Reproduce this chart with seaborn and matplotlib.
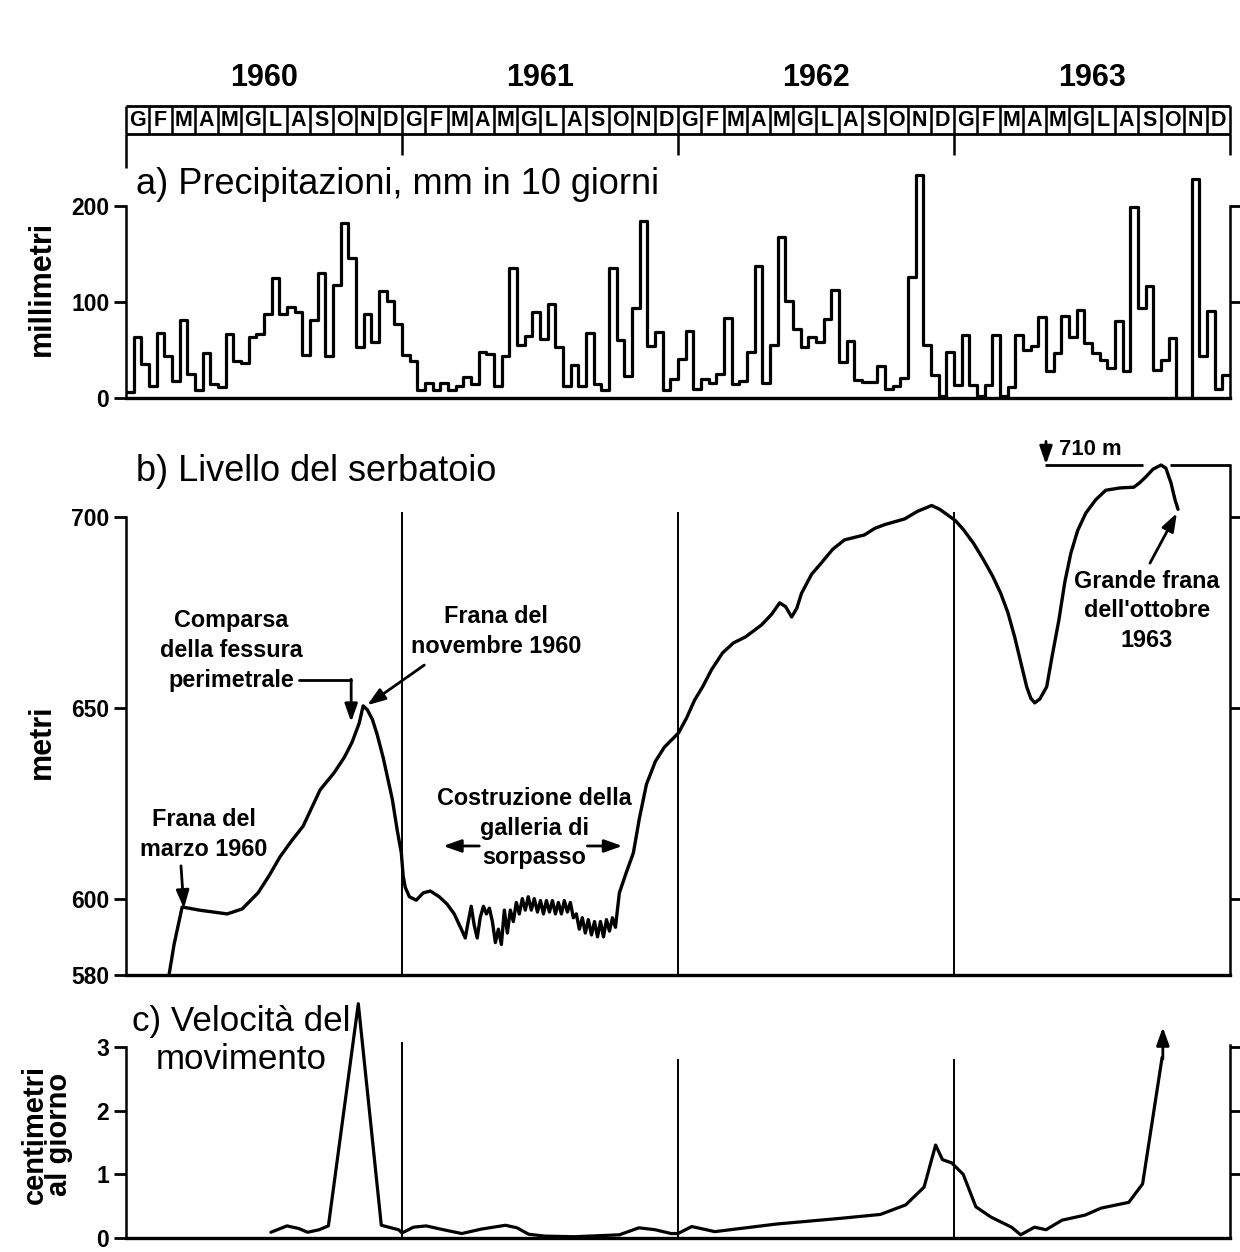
import numpy as np
import pandas as pd
import seaborn as sns
import matplotlib
matplotlib.use("Agg")
import matplotlib.pyplot as plt
from matplotlib import font_manager as fm

# ---------------- DATA ----------------
ANNI = [1960, 1961, 1962, 1963]
MESI = ["G", "F", "M", "A", "M", "G", "L", "A", "S", "O", "N", "D"]

# a) precipitazioni, mm per decade (36 decadi per anno)
PIOGGIA_1960 = [6, 64, 35, 13, 68, 44, 18, 81, 25, 8, 47, 15, 11, 67, 39, 36, 64, 67,
                87, 125, 88, 95, 90, 45, 81, 130, 44, 118, 182, 146, 53, 88, 58, 111, 101, 77]
PIOGGIA_1961 = [45, 39, 8, 16, 8, 16, 8, 12, 22, 15, 48, 46, 13, 44, 135, 55, 65, 90,
                61, 98, 53, 13, 34, 13, 68, 15, 8, 135, 60, 23, 94, 184, 54, 69, 8, 20]
PIOGGIA_1962 = [41, 70, 9, 20, 16, 25, 83, 15, 18, 48, 138, 16, 55, 168, 101, 72, 53, 64,
                58, 82, 113, 38, 59, 19, 17, 17, 33, 9, 13, 21, 126, 232, 55, 24, 2, 48]
PIOGGIA_1963 = [14, 66, 14, 2, 14, 66, 2, 11, 66, 50, 54, 84, 28, 47, 85, 64, 92, 57,
                47, 40, 31, 80, 28, 199, 94, 117, 29, 40, 62, 0, 0, 228, 44, 91, 9, 24]

# b) livello del serbatoio: tempo in mesi da gennaio 1960, quota in metri
LIVELLO_MESI = [1.87, 2.09, 2.44, 2.74, 3.18, 3.79, 4.40, 5.05, 5.74, 6.22, 6.70, 7.18, 7.70,
                8.09, 8.44, 9.05, 9.49, 9.83, 10.14, 10.31, 10.49, 10.71, 10.92, 11.18, 11.36,
                11.58, 11.79, 11.97, 12.05, 12.14, 12.32, 12.62, 12.92, 13.23, 13.62, 13.97,
                14.27, 14.58, 14.75, 14.88, 15.01, 15.14, 15.27, 15.40, 15.54, 15.67, 15.80,
                15.93, 16.06, 16.19, 16.32, 16.45, 16.58, 16.71, 16.84, 16.97, 17.10, 17.23,
                17.36, 17.49, 17.62, 17.75, 17.89, 18.02, 18.15, 18.28, 18.41, 18.54, 18.67,
                18.80, 18.93, 19.06, 19.19, 19.32, 19.45, 19.58, 19.71, 19.84, 19.97, 20.10,
                20.24, 20.37, 20.50, 20.63, 20.76, 20.89, 21.02, 21.15, 21.28, 21.45, 21.76,
                22.06, 22.32, 22.63, 23.02, 23.41, 24.02, 24.37, 24.72, 25.07, 25.46, 25.94,
                26.41, 26.94, 27.63, 28.07, 28.42, 28.68, 28.94, 29.16, 29.37, 29.81, 30.24,
                30.72, 31.24, 32.11, 32.55, 32.99, 33.86, 34.42, 35.03, 35.38, 35.73, 36.07,
                36.42, 36.86, 37.29, 37.68, 38.03, 38.34, 38.64, 38.90, 39.16, 39.34, 39.51,
                39.73, 40.03, 40.25, 40.56, 40.82, 41.08, 41.38, 41.73, 42.16, 42.60, 43.21,
                43.82, 44.08, 44.34, 44.65, 45.00, 45.21, 45.43, 45.61, 45.74]
LIVELLO_METRI = [580, 588, 597.8, 597.5, 597, 596.5, 596, 597.3, 601.5, 606, 611, 615, 619,
                 624, 628.5, 633, 637, 641, 646, 650.5, 649.5, 647, 643, 637, 632,
                 626, 618, 612, 606, 603, 600.5, 599.6, 601.5, 602, 600.5, 598.5,
                 596, 592, 589.7, 594, 598, 593, 589.7, 595, 598, 596, 597.5,
                 594, 588.5, 592, 588, 597, 591, 597, 594, 599, 596, 600,
                 597, 600.5, 597, 600, 596.5, 599.5, 596, 599.5, 596.5, 599.5, 596,
                 599, 596, 599.5, 596.5, 599, 595, 596, 592, 595, 591, 594.5,
                 590.5, 594, 590, 594, 590, 594.5, 591.5, 595, 592.5, 601.5, 607,
                 612, 621, 630, 636, 639.7, 643.4, 647.3, 652, 655.5, 660, 664.4,
                 667, 668.6, 671.7, 674.5, 677.5, 676.5, 673.8, 676, 680, 685, 688,
                 691.5, 694, 695.3, 697, 698, 699.5, 701.5, 703, 702, 700.5, 699,
                 696.6, 693, 688.7, 684.5, 680, 675, 668.5, 662, 655.5, 652.5, 651.3,
                 652.3, 655.5, 663, 673, 683, 690.5, 696.5, 701, 704.5, 707, 707.6,
                 707.8, 709, 710.5, 712.5, 713.6, 712.8, 709, 704.5, 702]
QUOTA_MAX = 713.6

# c) velocita del movimento, cm al giorno
VEL_MESI = [6.3, 7.0, 7.5, 7.9, 8.4, 8.8, 10.1, 11.1, 11.85, 12.0, 12.5, 13.05, 13.8, 14.6,
            15.45, 16.5, 17.0, 17.5, 18.2, 19.5, 21.45, 22.3, 23.0, 23.7, 24.0, 24.6, 25.6,
            28.3, 31.1, 32.8, 33.9, 34.7, 35.2, 35.5, 35.9, 36.4, 36.95, 37.6, 38.5, 38.9,
            39.5, 40.0, 40.7, 41.7, 42.4, 43.6, 44.2, 45.05]
VEL_CM = [0.09, 0.19, 0.15, 0.09, 0.13, 0.19, 3.68, 0.20, 0.13, 0.08, 0.17, 0.19, 0.13, 0.07,
          0.14, 0.20, 0.16, 0.06, 0.03, 0.02, 0.05, 0.16, 0.13, 0.07, 0.07, 0.18, 0.10,
          0.22, 0.31, 0.37, 0.52, 0.80, 1.46, 1.23, 1.18, 1.00, 0.49, 0.33, 0.17, 0.05,
          0.17, 0.13, 0.28, 0.36, 0.47, 0.56, 0.85, 2.84]

# ---------------- STYLE ----------------
sns.set_theme(style="ticks")
plt.rcParams["font.family"] = ["Liberation Sans", "DejaVu Sans"]
plt.rcParams["axes.linewidth"] = 1.8
for key in ["text.color", "axes.labelcolor", "xtick.color", "ytick.color", "axes.edgecolor"]:
    plt.rcParams[key] = "black"

names = {f.name for f in fm.fontManager.ttflist}
HAS_NARROW = "Liberation Sans Narrow" in names


def nfont(size, weight="normal"):
    if HAS_NARROW:
        return dict(family=["Liberation Sans Narrow", "Liberation Sans", "DejaVu Sans"],
                    size=size, weight=weight, color="black")
    return dict(family=["Liberation Sans", "DejaVu Sans"], size=size * 0.84, weight=weight,
                color="black")


W, H = 1240, 1252
fig = plt.figure(figsize=(W / 100, H / 100), dpi=100)
fig.patch.set_facecolor("white")

X0, X1 = 126, 1230


def px_axes(y0, y1, x0=X0, x1=X1):
    return fig.add_axes([x0 / W, 1 - y1 / H, (x1 - x0) / W, (y1 - y0) / H])


ARROW = dict(arrowstyle="-|>,head_length=0.9,head_width=0.32", color="black", lw=2,
             shrinkA=0, shrinkB=0)
NOTE_LS = 1.38


def style_axes(ax, ylim, yticks, lbounds, rticks, rbounds):
    ax.set_xlim(0, 48)
    ax.set_ylim(*ylim)
    ax.set_xticks([])
    ax.set_yticks(yticks)
    ax.set_yticklabels([str(t) for t in yticks], fontsize=16.5, fontweight="bold",
                       color="black")
    ax.set_xlabel("")
    ax.set_ylabel("")
    ax.spines["top"].set_visible(False)
    ax.spines["right"].set_visible(False)
    ax.spines["left"].set_bounds(*lbounds)
    ax.spines["bottom"].set_linewidth(2.4)
    ax.tick_params(axis="y", direction="out", length=9, width=2, pad=3, colors="black")
    ax.patch.set_alpha(0)
    ar = ax.twinx()
    ar.set_ylim(*ylim)
    ar.set_yticks(rticks)
    ar.set_yticklabels([])
    for s in ["top", "left", "bottom"]:
        ar.spines[s].set_visible(False)
    ar.spines["right"].set_bounds(*rbounds)
    ar.tick_params(axis="y", direction="out", length=9, width=2, colors="black")
    return ar


# ---------------- HEADER ----------------
axh = px_axes(50, 172)
axh.set_xlim(0, 48)
axh.set_ylim(172, 50)
axh.axis("off")
axh.hlines([106, 134], 0, 48, color="black", lw=2, clip_on=False)
axh.vlines(np.arange(49), 106, 134, color="black", lw=1.8, clip_on=False)
for i in range(48):
    axh.text(i + 0.5, 121, MESI[i % 12], ha="center", va="center", fontsize=15.5,
             fontweight="bold", color="black")
for k, a in enumerate(ANNI):
    axh.text(6 + 12 * k, 78, str(a), ha="center", va="center", fontsize=22,
             fontweight="bold", color="black")
axh.vlines([12, 24, 36, 48], 134, 155, color="black", lw=1.8, clip_on=False)
axh.vlines([0], 134, 168, color="black", lw=1.8, clip_on=False)

# ---------------- PANEL A ----------------
pioggia = PIOGGIA_1960 + PIOGGIA_1961 + PIOGGIA_1962 + PIOGGIA_1963
df_a = pd.DataFrame({"mese": np.arange(len(pioggia) + 1) / 3.0,
                     "mm": pioggia + [pioggia[-1]]})
ax_a = px_axes(398 - 255 * 0.96, 398)
sns.lineplot(data=df_a, x="mese", y="mm", ax=ax_a, color="black", lw=2.3,
             drawstyle="steps-post", estimator=None)
style_axes(ax_a, (0, 255), [0, 100, 200], (0, 200), [100, 200], (0, 200))
ax_a.text(0.44, 222, "a) Precipitazioni, mm in 10 giorni", ha="left", va="center",
          **nfont(31))

# ---------------- PANEL B ----------------
df_b = pd.DataFrame({"mese": LIVELLO_MESI, "quota": LIVELLO_METRI})
ax_b = px_axes(975 - 140 * 3.817, 975)
ax_b.vlines([12, 24, 36], 580, 701.3, color="black", lw=1.4)
sns.lineplot(data=df_b, x="mese", y="quota", ax=ax_b, color="black", lw=2.4,
             estimator=None, sort=False)
style_axes(ax_b, (580, 720), [580, 600, 650, 700], (580, 700), [600, 650, 700],
           (580, QUOTA_MAX))
ax_b.hlines(QUOTA_MAX, 39.95, 44.2, color="black", lw=2)
ax_b.hlines(QUOTA_MAX, 45.4, 48, color="black", lw=2)
ax_b.annotate("", xy=(40.0, QUOTA_MAX + 0.2), xytext=(40.0, 719.8), arrowprops=ARROW,
              annotation_clip=False)
ax_b.text(40.55, 717.6, "710 m", ha="left", va="center", **nfont(19, "bold"))
ax_b.text(0.44, 711.8, "b) Livello del serbatoio", ha="left", va="center", **nfont(31))

ax_b.text(4.57, 665.1, "Comparsa\ndella fessura\nperimetrale", ha="center", va="center",
          multialignment="center", linespacing=NOTE_LS, **nfont(20, "bold"))
ax_b.plot([7.53, 9.79], [657.3, 657.3], color="black", lw=2)
ax_b.annotate("", xy=(9.79, 646.3), xytext=(9.79, 657.5), arrowprops=ARROW)

ax_b.text(16.1, 669.9, "Frana del\nnovembre 1960", ha="center", va="center",
          multialignment="center", linespacing=NOTE_LS, **nfont(20, "bold"))
ax_b.annotate("", xy=(10.49, 650.7), xytext=(12.97, 661.2), arrowprops=ARROW)

ax_b.text(3.39, 616.7, "Frana del\nmarzo 1960", ha="center", va="center",
          multialignment="center", linespacing=NOTE_LS, **nfont(20, "bold"))
ax_b.annotate("", xy=(2.52, 597.4), xytext=(2.39, 608.6), arrowprops=ARROW)

ax_b.text(17.75, 618.5, "Costruzione della\ngalleria di\nsorpasso", ha="center",
          va="center", multialignment="center", linespacing=NOTE_LS, **nfont(20, "bold"))
ax_b.annotate("", xy=(13.79, 613.8), xytext=(15.36, 613.8), arrowprops=ARROW)
ax_b.annotate("", xy=(21.58, 613.8), xytext=(20.06, 613.8), arrowprops=ARROW)

ax_b.text(44.39, 675.4, "Grande frana\ndell'ottobre\n1963", ha="center", va="center",
          multialignment="center", linespacing=NOTE_LS, **nfont(20, "bold"))
ax_b.annotate("", xy=(45.69, 701.0), xytext=(44.52, 687.9), arrowprops=ARROW)

# ---------------- PANEL C ----------------
C_BASE = 1238
df_c = pd.DataFrame({"mese": VEL_MESI, "cm": VEL_CM})
ax_c = px_axes(C_BASE - 3.8 * 63.67, C_BASE)
ax_c.vlines([12], 0, 3.08, color="black", lw=1.4)
ax_c.vlines([24, 36], 0, 2.81, color="black", lw=1.4)
sns.lineplot(data=df_c, x="mese", y="cm", ax=ax_c, color="black", lw=2.3,
             estimator=None, sort=False)
style_axes(ax_c, (0, 3.8), [0, 1, 2, 3], (0, 3), [1, 2, 3], (0, 3.03))
ax_c.text(5.0, 3.1, "c) Velocità del\nmovimento", ha="center", va="center",
          multialignment="center", linespacing=1.22, **nfont(30))
ax_c.annotate("", xy=(45.08, 3.31), xytext=(45.08, 2.81), arrowprops=ARROW,
              annotation_clip=False)

# ---------------- Y LABELS ----------------
fig.text(42 / W, 1 - 288 / H, "millimetri", rotation=90, ha="center", va="center",
         fontsize=22, fontweight="bold", color="black")
fig.text(42 / W, 1 - 742 / H, "metri", rotation=90, ha="center", va="center",
         fontsize=22, fontweight="bold", color="black")
fig.text(47 / W, 1 - 1134 / H, "centimetri\nal giorno", rotation=90, ha="center",
         va="center", fontsize=21, fontweight="bold", linespacing=0.85,
         multialignment="center", color="black")

fig.savefig("out.png", dpi=100, facecolor="white")
